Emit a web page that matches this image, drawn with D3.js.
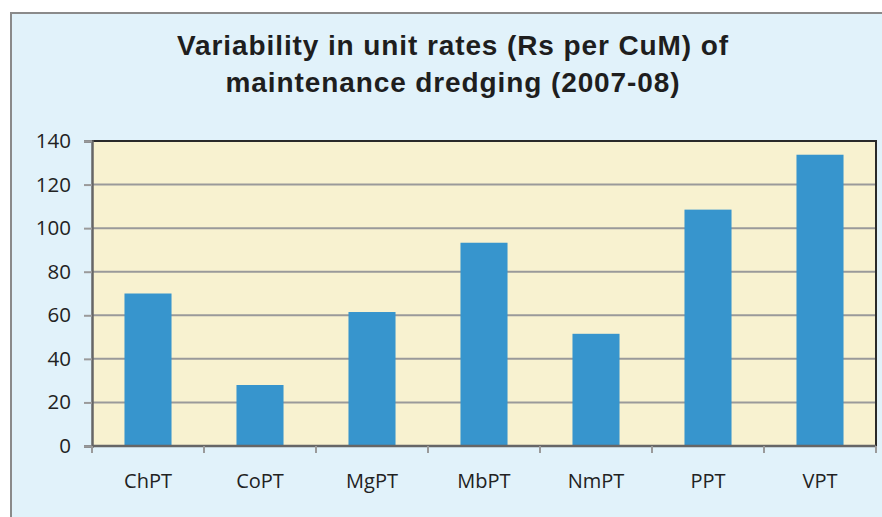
<!DOCTYPE html>
<html>
<head>
<meta charset="utf-8">
<script src="https://cdn.jsdelivr.net/npm/d3@7"></script>
<style>
  body { margin: 0; background: #fff; }
</style>
</head>
<body>
<script>
const ports = ["ChPT", "CoPT", "MgPT", "MbPT", "NmPT", "PPT", "VPT"];
const rates = [70, 28, 61.5, 93.3, 51.5, 108.5, 133.7];
const yTicks = [0, 20, 40, 60, 80, 100, 120, 140];
const titleLines = ["Variability in unit rates (Rs per CuM) of", "maintenance dredging (2007-08)"];

const W = 882, H = 517;
const plot = { left: 92, top: 141, right: 876, bottom: 446 };
const labelFont = "'Open Sans', 'Noto Sans', sans-serif";

const svg = d3.select("body").append("svg")
    .attr("width", W)
    .attr("height", H);

// outer panel
svg.append("rect")
    .attr("x", 11).attr("y", 13)
    .attr("width", W - 10).attr("height", H)
    .attr("fill", "#e1f2fa")
    .attr("stroke", "#8a8a8a")
    .attr("stroke-width", 2);

// title
svg.append("g").selectAll("text")
    .data(titleLines)
    .enter()
    .append("text")
    .attr("x", 453)
    .attr("y", (d, i) => 55 + i * 37)
    .attr("text-anchor", "middle")
    .style("font-family", "'Liberation Sans', Arial, sans-serif")
    .style("font-weight", "bold")
    .style("font-size", "28px")
    .style("letter-spacing", "0.9px")
    .attr("fill", "#1e1e1e")
    .text(d => d);

const x = d3.scaleBand()
    .domain(ports)
    .range([plot.left, plot.right])
    .paddingInner(0.58)
    .paddingOuter(0.29);

const y = d3.scaleLinear()
    .domain([0, 140])
    .range([plot.bottom, plot.top]);

// plot background
svg.append("rect")
    .attr("x", plot.left).attr("y", plot.top)
    .attr("width", plot.right - plot.left)
    .attr("height", plot.bottom - plot.top)
    .attr("fill", "#f8f2d0");

// gridlines
svg.append("g").selectAll("line")
    .data(yTicks.slice(1, -1))
    .enter()
    .append("line")
    .attr("x1", plot.left).attr("x2", plot.right)
    .attr("y1", d => y(d)).attr("y2", d => y(d))
    .attr("stroke", "#9a9a9a")
    .attr("stroke-width", 2);

// top and right frame
svg.append("path")
    .attr("d", `M${plot.left},${plot.top}H${plot.right}V${plot.bottom}`)
    .attr("fill", "none")
    .attr("stroke", "#2a2a2a")
    .attr("stroke-width", 2);

// bars
svg.append("g").selectAll("rect")
    .data(ports)
    .enter()
    .append("rect")
    .attr("x", (d) => x(d))
    .attr("y", (d, i) => y(rates[i]))
    .attr("width", x.bandwidth())
    .attr("height", (d, i) => y(0) - y(rates[i]))
    .attr("fill", "#3795cd");

// y axis
const yAxis = svg.append("g")
    .attr("transform", `translate(${plot.left},0)`)
    .call(d3.axisLeft(y).tickValues(yTicks).tickSize(8).tickPadding(13));
yAxis.select(".domain").attr("stroke", "#666").attr("stroke-width", 2.5);
yAxis.selectAll(".tick line").attr("stroke", "#9a9a9a").attr("stroke-width", 2);
yAxis.selectAll(".tick text")
    .style("font-size", "20.5px")
    .style("font-family", labelFont)
    .attr("fill", "#222");

// x axis
const boundaries = d3.range(ports.length + 1).map(i => plot.left + i * (plot.right - plot.left) / ports.length);
const xAxis = svg.append("g")
    .attr("transform", `translate(0,${plot.bottom})`);
xAxis.append("line")
    .attr("x1", plot.left).attr("x2", plot.right)
    .attr("stroke", "#666").attr("stroke-width", 2.5);
xAxis.selectAll("line.tk")
    .data(boundaries)
    .enter()
    .append("line")
    .attr("class", "tk")
    .attr("x1", d => d).attr("x2", d => d)
    .attr("y1", 0).attr("y2", 7)
    .attr("stroke", "#9a9a9a").attr("stroke-width", 2);
xAxis.selectAll("text")
    .data(ports)
    .enter()
    .append("text")
    .attr("x", d => x(d) + x.bandwidth() / 2)
    .attr("y", 42)
    .attr("text-anchor", "middle")
    .style("font-size", "20px")
    .style("font-family", labelFont)
    .attr("fill", "#222")
    .text(d => d);
</script>
</body>
</html>
